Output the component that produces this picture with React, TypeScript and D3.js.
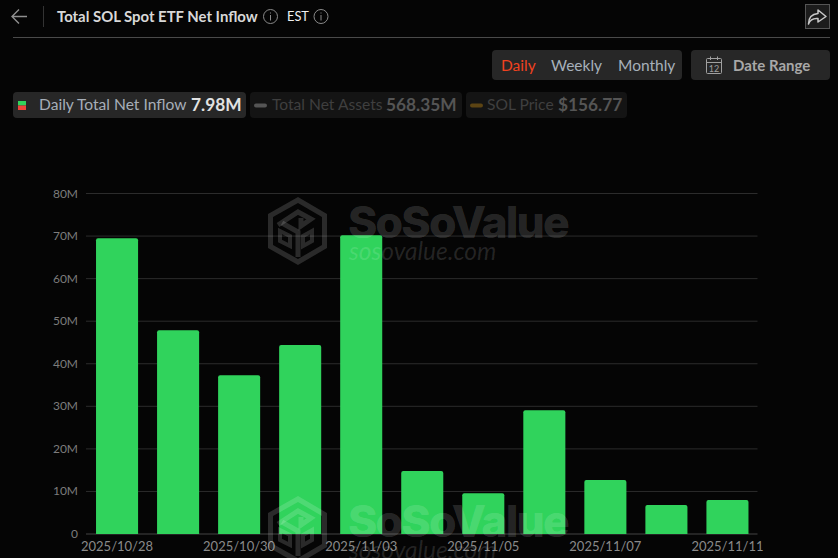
import { useMemo } from "react";
import * as d3 from "d3";

const width = 838;
const height = 558;

const dates = [
    "2025/10/28", "2025/10/29", "2025/10/30", "2025/10/31", "2025/11/03", "2025/11/04",
    "2025/11/05", "2025/11/06", "2025/11/07", "2025/11/10", "2025/11/11",
];
const netInflow = [69.5, 47.9, 37.3, 44.4, 70.2, 14.8, 9.6, 29.1, 12.7, 6.8, 7.98];
const yTicks = [0, 10, 20, 30, 40, 50, 60, 70, 80];
const shownDates = ["2025/10/28", "2025/10/30", "2025/11/03", "2025/11/05", "2025/11/07", "2025/11/11"];

const font = "Lato, sans-serif";
const green = "#30d35c";

// hexagon logo of the watermark, drawn around its own top-left corner
const Watermark = ({ x, y }: { x: number; y: number }) => (
    <g transform={`translate(${x},${y})`} pointerEvents="none">
        <path
            fillRule="evenodd"
            fill="#fff"
            fillOpacity={0.15}
            d="M30 0 L59 17 L59 51 L30 68 L0 51 L0 17 Z M30 6 L5 20 L5 48 L30 62 L54 48 L54 20 Z"
        />
        <g fill="none" stroke="#fff" strokeOpacity={0.15} strokeWidth={5} strokeLinejoin="miter">
            <path d="M10 28 L30 15 L43 22 L33 29 L33 21" />
            <path d="M14 26 L30 35 L30 60" />
            <path d="M44 34 L35 39 L35 49 L44 44 Z" strokeWidth={4} />
            <path d="M12 34 L22 39 L22 49 L12 44 Z" strokeWidth={4} />
        </g>
        <text x={80} y={41} fontFamily="Inter, sans-serif" fontWeight={800} fontSize={44.5} letterSpacing={-1.8} fill="#fff" fillOpacity={0.15}>
            SoSoValue
        </text>
        <text x={81} y={63} fontFamily={font} fontStyle="italic" fontSize={24.5} fill="#fff" fillOpacity={0.13}>
            sosovalue.com
        </text>
    </g>
);

const InfoIcon = ({ x, y }: { x: number; y: number }) => (
    <g transform={`translate(${x},${y})`} fill="none" stroke="#8a8a8a" strokeWidth={1}>
        <circle r={7} />
        <line x1={0} x2={0} y1={-1.5} y2={4} />
        <line x1={0} x2={0} y1={-4} y2={-3} />
    </g>
);

const Header = () => (
    <g fontFamily={font}>
        <path d="M27 16.5 H12 M19 9.5 L12 16.5 L19 23.5" fill="none" stroke="#8f8f8f" strokeWidth={1.4} />
        <line x1={43.5} x2={43.5} y1={6} y2={27} stroke="#333" />
        <text x={57} y={22} fontSize={14.9} fontWeight={700} fill="#d8d8d8">Total SOL Spot ETF Net Inflow</text>
        <InfoIcon x={270.5} y={16.5} />
        <text x={287} y={20.5} fontSize={12.8} fill="#f0f0f0">EST</text>
        <InfoIcon x={321} y={16.5} />
        <line x1={13} x2={830} y1={37.5} y2={37.5} stroke="#4a4a4a" />

        <rect x={805.5} y={4.5} width={24} height={24} fill="#1c1c1c" stroke="#555" />
        <path d="M818 10 L826 16.5 L818 22 L818 18.5 C813 18 810 20 808.5 24 C808.5 18 812 14 818 13.5 Z" fill="none" stroke="#c8c8c8" strokeWidth={1.5} strokeLinejoin="round" />

        <rect x={492} y={50} width={190} height={30} rx={4} fill="#272727" />
        <text x={501} y={71} fontSize={15.5} fill="#f0421f">Daily</text>
        <text x={551} y={71} fontSize={15.5} fill="#a6b0ba">Weekly</text>
        <text x={618} y={71} fontSize={15.5} fill="#a6b0ba">Monthly</text>

        <rect x={691} y={50} width={139} height={30} rx={4} fill="#272727" />
        <g fill="none" stroke="#a0a0a0" strokeWidth={1}>
            <rect x={706.5} y={58.5} width={15} height={15} rx={1} />
            <line x1={706.5} x2={721.5} y1={62.5} y2={62.5} />
            <line x1={710.5} x2={710.5} y1={56.5} y2={60} />
            <line x1={717.5} x2={717.5} y1={56.5} y2={60} />
        </g>
        <text x={714} y={72} fontSize={9} textAnchor="middle" fill="#a0a0a0">12</text>
        <text x={733} y={71} fontSize={15} fontWeight={700} fill="#a8a8a8">Date Range</text>

        <rect x={13} y={92} width={233} height={26} rx={4} fill="#272727" />
        <rect x={18} y={101} width={8} height={4.5} fill={green} />
        <rect x={18} y={105.5} width={8} height={4.5} fill="#f0443a" />
        <text x={39} y={110} fontSize={15.6} fill="#a6aeb8">Daily Total Net Inflow</text>
        <text x={191} y={111} fontSize={17.3} fontWeight={700} fill="#e2e2e2">7.98M</text>

        <rect x={250} y={92} width={212} height={26} rx={4} fill="#141414" />
        <rect x={254} y={103.5} width={13} height={4} rx={2} fill="#555" />
        <text x={272} y={110} fontSize={15.6} fill="#3f3f3f">Total Net Assets</text>
        <text x={386} y={111} fontSize={17.3} fontWeight={700} fill="#555">568.35M</text>

        <rect x={466} y={92} width={161} height={26} rx={4} fill="#141414" />
        <rect x={470} y={103.5} width={13} height={4} rx={2} fill="#5c4413" />
        <text x={487} y={110} fontSize={15.6} fill="#3f3f3f">SOL Price</text>
        <text x={558} y={111} fontSize={17.3} fontWeight={700} fill="#555">$156.77</text>
    </g>
);

export default function App() {
    const xScale = useMemo(() => d3.scaleBand<string>().domain(dates).range([86.5, 758]).paddingInner(0.311).paddingOuter(0.156), []);
    const yScale = useMemo(() => d3.scaleLinear().domain([0, 80]).range([534, 193.5]), []);

    return (
        <svg width={width} height={height} style={{ position: "absolute", left: 0, top: 0, background: "#050505" }}>
            <Header />

            {/* grid and y axis */}
            {yTicks.map((t) => (
                <g key={t}>
                    <line x1={86} x2={757.5} y1={yScale(t)} y2={yScale(t)} stroke={t === 0 ? "#444" : "#2c2c2c"} />
                    <text x={78} y={yScale(t) + 4} textAnchor="end" fontFamily={font} fontSize={12} fill="#7c7c7c">
                        {t === 0 ? "0" : `${t}M`}
                    </text>
                </g>
            ))}

            {dates.map((d, i) => (
                <path
                    key={d}
                    d={`M${xScale(d)} ${yScale(0)} V${yScale(netInflow[i]) + 2} q0 -2 2 -2 H${xScale(d)! + xScale.bandwidth() - 2} q2 0 2 2 V${yScale(0)} Z`}
                    fill={green}
                />
            ))}

            {shownDates.map((d) => (
                <text
                    key={d}
                    x={xScale(d)! + xScale.bandwidth() / 2}
                    y={551}
                    textAnchor="middle"
                    fontFamily={font}
                    fontSize={13}
                    fill="#8a8a8a"
                >
                    {d}
                </text>
            ))}

            <Watermark x={268} y={197} />
            <Watermark x={268} y={496} />
        </svg>
    );
}
